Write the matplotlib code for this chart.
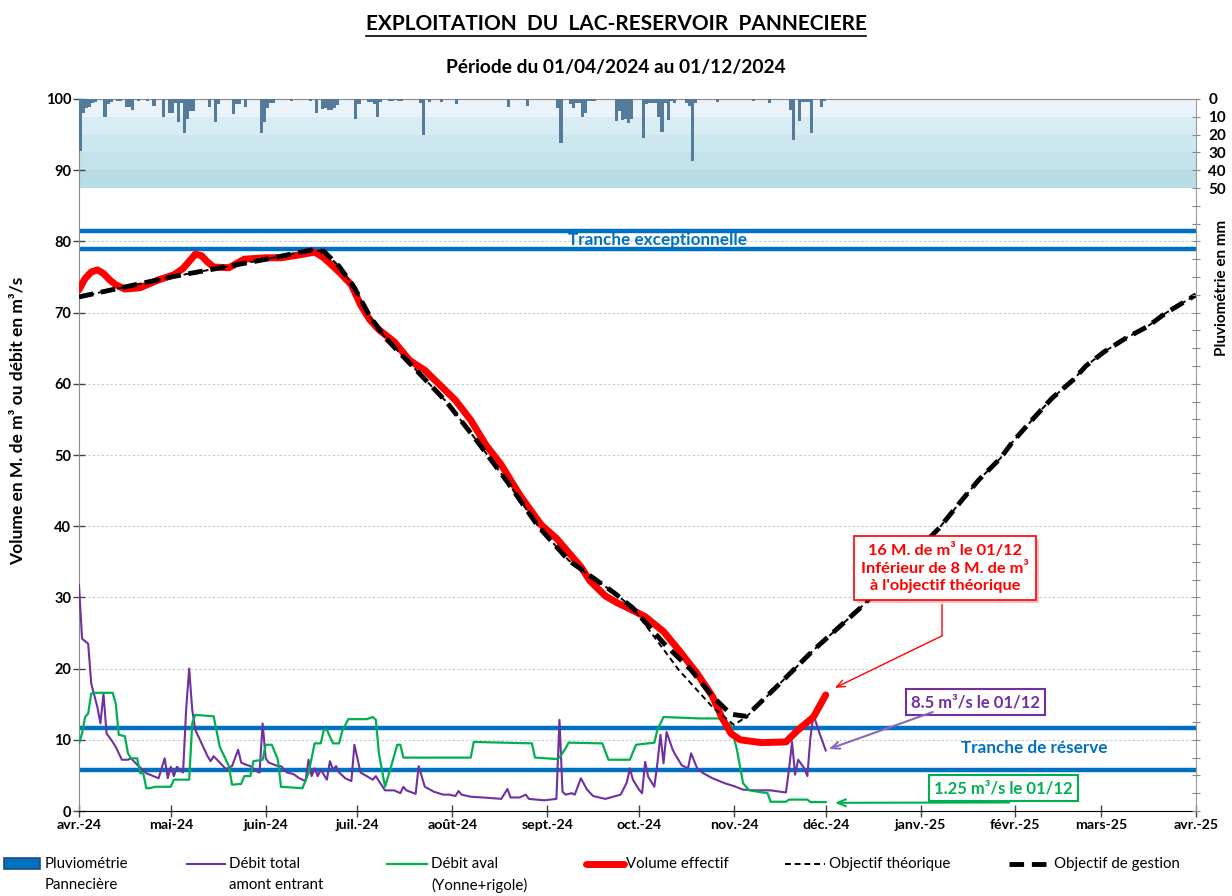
"""Exploitation du lac-reservoir de Pannecière, avril-décembre 2024."""

import datetime as dt

import matplotlib

matplotlib.use("Agg")
import matplotlib.pyplot as plt  # noqa: E402
import matplotlib.patheffects as pe  # noqa: E402
from matplotlib.lines import Line2D  # noqa: E402
from matplotlib.patches import Rectangle  # noqa: E402

plt.rcParams["font.family"] = ["Lato", "DejaVu Sans"]

START = dt.date(2024, 4, 1)
W, H = 1232, 896

month_labels = ["avr.-24", "mai-24", "juin-24", "juil.-24", "août-24", "sept.-24", "oct.-24",
                "nov.-24", "déc.-24", "janv.-25", "févr.-25", "mars-25", "avr.-25"]

# daily rain (mm), day offset from 01/04/2024
rain_day = [0, 1, 2, 3, 4, 5, 8, 9, 10, 12, 13, 15, 16, 17, 19, 22, 24, 27, 29, 30, 31, 32, 33,
            34, 35, 36, 37, 42, 44, 45, 50, 51, 52, 54, 59, 60, 61, 62, 63, 69, 75, 77, 79, 80,
            81, 82, 83, 84, 90, 91, 94, 95, 96, 97, 98, 101, 102, 103, 104, 105, 111, 112, 114,
            118, 123, 140, 146, 156, 157, 160, 161, 162, 163, 164, 165, 166, 167, 168, 175, 176,
            177, 178, 179, 180, 184, 185, 186, 187, 188, 189, 190, 191, 192, 193, 194, 198, 199,
            200, 201, 208, 220, 225, 232, 233, 235, 236, 237, 238, 239, 242, 243]
rain_mm = [29, 8, 5, 4.5, 2, 1.5, 10, 3, 1.5, 1, 1, 4.5, 4.5, 6, 1, 1, 4, 10, 8, 8, 2.5, 13, 2.5,
           19, 11, 7, 7, 4.5, 13, 3, 8.5, 3, 3, 4.5, 19, 13, 5, 2, 2, 1, 1, 8, 5.5, 5,
           6, 6, 5, 3.5, 11, 3, 1.5, 1.5, 3, 10, 1.5, 1, 1, 0.5, 1, 1, 2, 20.5, 1.5,
           1.5, 3, 4.5, 4, 5, 25, 3, 5, 2, 2, 10, 8, 1, 1, 1, 12.5, 6.5,
           12, 11, 13.5, 11, 22, 3, 2, 2, 2, 10, 18.5, 2, 12, 1, 2, 2.5, 4,
           35, 2, 1.5, 1, 2, 6, 23, 12.5, 1.5, 1.5, 1.5, 19, 4.5, 1]

# débit total amont entrant (m3/s)
inflow_day = [0, 1, 3, 4, 6, 7, 8, 9, 11, 12, 14, 16, 17, 19, 22, 26, 28, 29, 30, 31, 32, 34, 35,
              36, 37, 38, 41, 42, 43, 44, 46, 48, 50, 52, 53, 54, 56, 58, 59, 60, 61, 62, 65, 66,
              68, 70, 72, 74, 75, 76, 77, 78, 79, 81, 82, 83, 84, 85, 87, 89, 90, 92, 94, 96, 97,
              98, 100, 103, 105, 106, 107, 110, 111, 113, 116, 119, 121, 123, 124, 125, 128, 132,
              138, 140, 141, 144, 146, 147, 152, 156, 157, 158, 159, 161, 162, 164, 166, 168, 172,
              177, 179, 180, 181, 183, 184, 185, 186, 188, 189, 190, 191, 192, 194, 195, 197, 199,
              200, 202, 204, 207, 211, 214, 217, 221, 226, 231, 232, 233, 234, 235, 237, 238, 239,
              240, 242, 244]
inflow_val = [31.7, 24.2, 23.5, 17.9, 14.6, 12.3, 16.5, 10.9, 9.7, 9.0, 7.2, 7.2, 7.4, 6.5, 5.3,
              4.6, 7.4, 4.6, 6.2, 4.9, 6.2, 5.4, 14.2, 20.0, 14.2, 11.4, 8.6, 7.7, 7.0, 7.7, 6.8,
              5.9, 6.3, 8.6, 6.8, 6.6, 6.3, 5.6, 5.4, 12.3, 7.4, 6.8, 6.3, 6.3, 5.4, 5.2, 4.6,
              4.2, 7.2, 4.9, 6.0, 4.9, 5.8, 4.4, 7.0, 5.8, 6.3, 5.4, 4.6, 4.2, 9.3, 5.4, 4.9, 4.4,
              4.9, 4.2, 2.9, 2.9, 2.5, 3.4, 2.9, 2.4, 6.3, 3.4, 2.7, 2.3, 2.3, 2.1, 2.8, 2.3, 2.0,
              1.9, 1.7, 3.1, 1.9, 1.9, 2.3, 1.7, 1.5, 1.7, 12.8, 2.7, 2.3, 2.5, 2.3, 4.6, 3.0, 2.1,
              1.7, 2.3, 4.0, 6.0, 4.4, 3.0, 2.5, 6.9, 4.8, 3.4, 6.7, 10.7, 6.7, 11.1, 8.6, 7.8,
              6.4, 6.0, 8.1, 6.0, 5.3, 4.6, 3.9, 3.5, 3.0, 2.9, 2.9, 2.6, 5.8, 9.7, 5.1, 7.2, 6.0,
              4.9, 10.3, 13.5, 10.9, 8.5]

# débit aval Yonne + rigole (m3/s)
outflow_day = [0, 1, 2, 3, 4, 5, 11, 12, 13, 15, 16, 17, 19, 20, 21, 22, 23, 25, 30, 31, 36, 37,
               38, 44, 46, 49, 50, 53, 54, 56, 57, 60, 61, 63, 65, 66, 73, 75, 77, 79, 80, 81, 83,
               85, 86, 88, 94, 96, 97, 98, 100, 102, 104, 105, 106, 128, 129, 148, 149, 156, 157,
               159, 160, 171, 173, 180, 182, 188, 189, 191, 197, 203, 209, 213, 215, 217, 219,
               225, 226, 231, 232, 238, 239, 244]
outflow_val = [9.5, 10.9, 13.2, 13.7, 16.5, 16.6, 16.6, 15.1, 10.7, 10.5, 8.1, 7.4, 7.4, 5.3, 5.3,
               3.2, 3.2, 3.4, 3.4, 4.4, 4.4, 12.3, 13.5, 13.3, 9.0, 6.3, 3.7, 3.8, 4.9, 4.9, 7.0,
               7.2, 9.3, 9.3, 7.2, 3.4, 3.2, 5.3, 9.5, 9.5, 11.4, 11.4, 9.5, 9.5, 11.2, 12.9, 12.9,
               13.2, 12.8, 8.1, 3.4, 6.3, 9.3, 9.3, 7.5, 7.5, 9.7, 9.5, 7.5, 7.3, 7.5, 8.8, 9.6,
               9.5, 7.2, 7.2, 9.3, 9.6, 11.4, 13.2, 13.1, 13.0, 13.0, 12.1, 8.6, 3.9, 2.9, 2.5,
               1.3, 1.3, 1.6, 1.6, 1.25, 1.25]

# volume effectif (M. m3)
vol_day = [0, 2, 4, 6, 8, 10, 12, 15, 20, 26, 31, 34, 36, 38, 40, 42, 44, 49, 54, 61, 66, 72, 77,
           80, 85, 89, 92, 95, 98, 103, 108, 113, 118, 123, 128, 133, 138, 144, 151, 156, 161,
           164, 167, 172, 176, 179, 185, 191, 196, 202, 207, 210, 213, 216, 223, 231, 235, 240,
           244]
vol_val = [73.2, 74.8, 75.7, 76.0, 75.5, 74.6, 73.9, 73.3, 73.5, 74.6, 75.3, 76.2, 77.2, 78.2,
           78.0, 77.1, 76.4, 76.3, 77.5, 77.7, 77.7, 78.1, 78.5, 77.7, 75.7, 73.9, 71.1, 69.0,
           67.6, 65.9, 63.3, 61.9, 59.8, 57.7, 54.9, 51.4, 48.6, 44.4, 40.2, 38.3, 35.8, 34.3,
           32.3, 30.2, 29.2, 28.6, 27.3, 25.2, 22.6, 19.3, 16.1, 13.2, 10.9, 10.0, 9.6, 9.7, 11.4,
           13.2, 16.3]

# objectif de gestion (M. m3)
gest_day = [0, 30, 60, 76, 80, 85, 90, 95, 100, 110, 120, 130, 140, 150, 160, 175, 181, 191, 200,
            207, 213, 218, 229, 240, 255, 281, 288, 294, 301, 305, 312, 318, 325, 329, 335,
            342, 349, 355, 365]
gest_val = [72.2, 75.0, 77.4, 78.8, 78.6, 76.5, 73.5, 69.5, 66.5, 62.0, 57.5, 52.0, 46.2, 40.0,
            35.2, 30.6, 28.5, 23.6, 19.8, 16.1, 13.6, 13.3, 17.9, 22.6, 28.4, 39.7, 43.4,
            46.5, 49.5, 51.8, 55.2, 58.0, 60.6, 62.5, 64.5, 66.4, 68.0, 69.9, 72.5]

# objectif theorique (M. m3)
theo_day = [0, 30, 60, 76, 80, 85, 90, 95, 100, 110, 120, 130, 140, 150, 160, 175, 181, 196, 207,
            214, 218, 229, 240, 255, 281, 288, 294, 301, 305, 312, 318, 325, 329, 335, 342,
            349, 355, 365]
theo_val = [72.2, 75.0, 77.4, 78.8, 78.6, 76.5, 73.5, 69.5, 66.5, 62.0, 57.5, 52.0, 46.2, 40.0,
            35.2, 30.6, 28.5, 19.8, 14.6, 12.1, 13.2, 17.9, 22.6, 28.4, 39.7, 43.4, 46.5,
            49.5, 51.8, 55.2, 58.0, 60.6, 62.5, 64.5, 66.4, 68.0, 69.9, 72.5]

levels = [81.5, 78.9, 11.7, 5.8]   # limites des tranches
rain_bands = ["#e9f3f9", "#d8ecf3", "#cde7ef", "#c3e2eb", "#b8dde6"]
RAIN_SCALE = 4.0   # mm per unit of the left axis

BLUE = "#0070c0"
PURPLE = "#7030a0"
GREEN = "#00b050"
RED = "#ff0000"


def dates(days):
    return [START + dt.timedelta(days=float(d)) for d in days]


def fx(px):
    return px / W


def fy(py):
    return 1 - py / H


fig = plt.figure(figsize=(W / 100, H / 100), dpi=100)
ax = fig.add_axes([fx(79), fy(811), fx(1196) - fx(79), fy(99) - fy(811)])

ax.set_xlim(START, dt.date(2025, 4, 1))
ax.set_ylim(0, 100)
ax.set_axisbelow(True)

for i, c in enumerate(rain_bands):
    ax.axhspan(100 - (i + 1) * 10 / RAIN_SCALE, 100 - i * 10 / RAIN_SCALE, color=c, lw=0, zorder=0.1)

ax.set_yticks(range(0, 101, 10))
ax.yaxis.grid(True, color="#c8c8c8", linestyle=(0, (2, 2)), linewidth=0.8)
for lvl in levels:
    ax.axhline(lvl, color=BLUE, lw=3.2, zorder=2)

ax.plot(dates(inflow_day), inflow_val, color=PURPLE, lw=1.5, zorder=3)
ax.plot(dates(outflow_day), outflow_val, color=GREEN, lw=1.6, zorder=3)
ax.plot(dates(vol_day), vol_val, color=RED, lw=5, solid_capstyle="round",
        solid_joinstyle="round", zorder=4)
ax.plot(dates(theo_day), theo_val, color="black", lw=1.4, ls=(0, (3, 2)), zorder=5)
ax.plot(dates(gest_day), gest_val, color="black", lw=3.5, ls=(0, (3, 1.6)), zorder=5)

month_starts = [dt.date(2024 + (3 + m) // 12, (3 + m) % 12 + 1, 1) for m in range(13)]
ax.set_xticks(month_starts)
ax.set_xticklabels(month_labels, fontweight="bold", fontsize=10.2)
for lab in ax.get_yticklabels():
    lab.set_fontweight("bold")
    lab.set_fontsize(10.5)
ax.tick_params(axis="both", direction="inout", length=9, width=1, color="#444444")
ax.tick_params(axis="x", pad=1)
ax.tick_params(axis="y", pad=1)

for side in ("left", "top"):
    ax.spines[side].set_color("#8c8c8c")
ax.spines["bottom"].set_color("black")
ax.spines["right"].set_visible(False)

# pluviometrie, inverted right axis
ax2 = ax.twinx()
ax2.set_ylim(100 * RAIN_SCALE, 0)
ax2.bar(dates(rain_day), rain_mm, width=1.0, align="edge", color="#567a99", zorder=3)
ax2.set_yticks(range(0, 401, 10))
ax2.set_yticklabels([str(v) if v <= 50 else "" for v in range(0, 401, 10)],
                    fontweight="bold", fontsize=11)
ax2.tick_params(axis="y", direction="inout", length=6, color="#888888", pad=6)
ax2.spines["right"].set_color("#9a9a9a")
for side in ("left", "top", "bottom"):
    ax2.spines[side].set_visible(False)

# texts
ax.text(START + dt.timedelta(days=189), 80.2, "Tranche exceptionnelle", color=BLUE,
        fontweight="bold", fontsize=12.3, ha="center", va="center", zorder=6)
ax.text(START + dt.timedelta(days=312), 8.9, "Tranche de réserve", color=BLUE,
        fontweight="bold", fontsize=12.3, ha="center", va="center", zorder=6)

last_vol = dates(vol_day)[-1]
red_box = ax.text(START + dt.timedelta(days=283.7), 34.1,
                  "16 M. de m³ le 01/12\nInférieur de 8 M. de m³\nà l'objectif théorique",
                  color=RED, fontweight="bold", fontsize=11.8, ha="center", va="center",
                  linespacing=1.3, zorder=7,
                  bbox=dict(boxstyle="square,pad=0.45", fc="white", ec=RED, lw=1.2))
red_box.get_bbox_patch().set_path_effects(
    [pe.SimplePatchShadow(offset=(2, -2), shadow_rgbFace=RED, alpha=0.25), pe.Normal()])
corner = (START + dt.timedelta(days=282.4), 24.6)
ax.annotate("", xy=corner, xytext=(START + dt.timedelta(days=282.4), 29.0),
            arrowprops=dict(arrowstyle="-", color=RED, lw=1, shrinkA=0, shrinkB=0), zorder=7)
ax.annotate("", xy=(last_vol + dt.timedelta(days=3), vol_val[-1] + 1), xytext=corner,
            arrowprops=dict(arrowstyle="->,head_length=0.6,head_width=0.25", color=RED, lw=1,
                            shrinkA=0, shrinkB=0), zorder=7)

ax.text(START + dt.timedelta(days=293.8), 15.3, "8.5 m³/s le 01/12", color=PURPLE,
        fontweight="bold", fontsize=12, ha="center", va="center", zorder=7,
        bbox=dict(boxstyle="square,pad=0.3", fc="white", ec=PURPLE, lw=1.5))
ax.annotate("", xy=(dates(inflow_day)[-1] + dt.timedelta(days=1), inflow_val[-1] + 0.2),
            xytext=(START + dt.timedelta(days=279.7), 13.9),
            arrowprops=dict(arrowstyle="->,head_length=0.6,head_width=0.25", color="#8a68b8",
                            lw=1.5, shrinkA=0, shrinkB=0), zorder=7)

ax.text(START + dt.timedelta(days=302.9), 3.2, "1.25 m³/s le 01/12", color=GREEN,
        fontweight="bold", fontsize=12, ha="center", va="center", zorder=7,
        bbox=dict(boxstyle="square,pad=0.3", fc="white", ec=GREEN, lw=1.5))
ax.annotate("", xy=(dates(outflow_day)[-1] + dt.timedelta(days=3), outflow_val[-1] - 0.1),
            xytext=(START + dt.timedelta(days=304.6), 1.2),
            arrowprops=dict(arrowstyle="->,head_length=0.6,head_width=0.25", color=GREEN,
                            lw=1.5, shrinkA=0, shrinkB=0), zorder=7)

# titles and axis labels
title = fig.text(0.5, fy(24), "EXPLOITATION  DU  LAC-RESERVOIR  PANNECIERE", ha="center",
                 va="center", fontweight="bold", fontsize=15)
fig.text(0.5, fy(68), "Période du 01/04/2024 au 01/12/2024", ha="center", va="center",
         fontweight="bold", fontsize=13.8)
fig.text(fx(18), fy(421), "Volume en M. de m³ ou débit en m³/s", rotation=90, ha="center",
         va="center", fontweight="bold", fontsize=12.5)
fig.text(fx(1222), fy(288), "Pluviométrie en mm", rotation=90, ha="center", va="center",
         fontweight="bold", fontsize=11)

fig.canvas.draw()
bb = title.get_window_extent().transformed(fig.transFigure.inverted())
fig.add_artist(Line2D([bb.x0, bb.x1], [bb.y0 - 0.002, bb.y0 - 0.002], color="black", lw=1.2,
                      transform=fig.transFigure))

# legend, drawn by hand to match the spacing
ly1, ly2 = fy(864), fy(885)
fig.add_artist(Rectangle((fx(4), fy(869)), fx(40) - fx(4), fy(858) - fy(869), fc=BLUE,
                         ec="#1f4e79", lw=1.2, transform=fig.transFigure))
legend_lines = [
    (187, 225, dict(color=PURPLE, lw=1.5)),
    (387, 427, dict(color=GREEN, lw=1.6)),
    (586, 624, dict(color=RED, lw=5, solid_capstyle="round")),
    (785, 825, dict(color="black", lw=1.4, ls=(0, (3, 2)))),
    (1009, 1053, dict(color="black", lw=3.5, ls=(0, (3, 1.6)))),
]
for x0, x1, style in legend_lines:
    fig.add_artist(Line2D([fx(x0), fx(x1)], [ly1, ly1], transform=fig.transFigure, **style))
legend_texts = [
    (45, "Pluviométrie", "Pannecière"),
    (229, "Débit total", "amont entrant"),
    (431, "Débit aval", "(Yonne+rigole)"),
    (626, "Volume effectif", ""),
    (829, "Objectif théorique", ""),
    (1054, "Objectif de gestion", ""),
]
for x, l1, l2 in legend_texts:
    fig.text(fx(x), ly1, l1, ha="left", va="center", fontsize=10.8)
    if l2:
        fig.text(fx(x), ly2, l2, ha="left", va="center", fontsize=10.8)

fig.savefig("out.png", dpi=100)
